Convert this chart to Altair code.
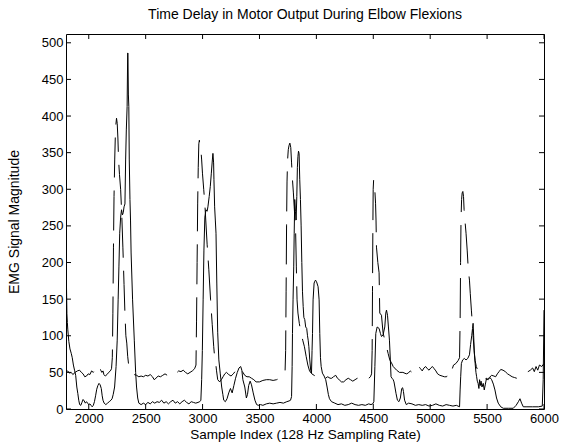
import altair as alt
import pandas as pd

# ---- data ----
dash_x = [1800, 1815, 1830, 1846, 1860, 1880, 1900, 1919, 1935, 1950, 1965, 1980, 1995, 2010, 2025, 2040,
          2055, 2070, 2085, 2095, 2105, 2115, 2125, 2133, 2145, 2160, 2175, 2190, 2200, 2207, 2212, 2217,
          2222, 2228, 2233, 2238, 2244, 2250, 2256, 2262, 2270, 2280, 2290, 2300, 2310, 2318, 2326, 2334,
          2342, 2352, 2365, 2380, 2400, 2420, 2440, 2460, 2480, 2500, 2520, 2540, 2560, 2575, 2590, 2610,
          2630, 2650, 2670, 2690, 2710, 2730, 2750, 2770, 2790, 2810, 2830, 2850, 2870, 2890, 2910, 2930,
          2942, 2947, 2952, 2957, 2962, 2967, 2972, 2978, 2985, 2992, 2999, 3010, 3020, 3028, 3040, 3055,
          3070, 3085, 3098, 3106, 3115, 3122, 3133, 3150, 3165, 3180, 3195, 3210, 3230, 3250, 3270, 3290,
          3310, 3326, 3340, 3355, 3370, 3390, 3410, 3430, 3450, 3470, 3500, 3530, 3560, 3590, 3620, 3650,
          3680, 3710, 3725, 3730, 3734, 3738, 3742, 3747, 3753, 3760, 3767, 3775, 3782, 3790, 3798, 3805,
          3812, 3818, 3824, 3830, 3838, 3850, 3865, 3880, 3895, 3910, 3925, 3940, 3960, 3980, 4000, 4020,
          4040, 4060, 4080, 4100, 4120, 4135, 4150, 4170, 4185, 4200, 4220, 4240, 4260, 4280, 4300, 4320,
          4340, 4360, 4380, 4400, 4420, 4440, 4460, 4475, 4485, 4490, 4493, 4496, 4499, 4503, 4509, 4515,
          4520, 4524, 4528, 4540, 4551, 4557, 4572, 4586, 4601, 4616, 4630, 4645, 4660, 4675, 4705, 4730,
          4760, 4790, 4807, 4825, 4840, 4855, 4870, 4885, 4900, 4915, 4930, 4945, 4960, 4975, 4990, 5005,
          5020, 5035, 5050, 5065, 5085, 5105, 5125, 5144, 5160, 5170, 5180, 5190, 5205, 5225, 5245, 5258,
          5263, 5267, 5271, 5276, 5281, 5287, 5293, 5298, 5305, 5315, 5325, 5335, 5345, 5352, 5362, 5368,
          5373, 5378, 5386, 5395, 5405, 5420, 5440, 5460, 5480, 5500, 5520, 5540, 5560, 5575, 5590, 5605,
          5620, 5640, 5660, 5680, 5700, 5720, 5740, 5760, 5780, 5800, 5820, 5840, 5860, 5880, 5900, 5915,
          5930, 5945, 5960, 5980, 6000]
dash_y = [50, 52, 49, 50, 47, 50, 52, 53, 50, 48, 44, 45, 48, 47, 52, 50,
          54, 57, 55, 58, 53, 50, 52, 47, 45, 47, 50, 52, 55, 70, 130, 220,
          290, 340, 370, 388, 397, 390, 370, 340, 320, 300, 265, 220, 170, 130, 100, 90,
          72, 58, 52, 50, 47, 46, 44, 45, 44, 46, 45, 47, 44, 40, 42, 45,
          44, 46, 48, 46, 49, 47, 50, 49, 52, 51, 53, 50, 48, 50, 52, 55,
          60, 120, 200, 280, 330, 362, 367, 356, 354, 340, 322, 300, 280, 258, 225, 190,
          150, 115, 85, 71, 63, 53, 40, 37, 40, 44, 48, 50, 47, 45, 48, 52,
          54, 58, 55, 50, 46, 44, 44, 42, 40, 37, 37, 39, 40, 40, 39, 40,
          42, 44, 52, 80, 160, 250, 310, 340, 354, 360, 363, 357, 336, 313, 295, 276,
          258, 240, 194, 149, 131, 117, 104, 94, 85, 72, 60, 52, 48, 46, 44, 47,
          45, 43, 42, 44, 42, 42, 44, 46, 42, 40, 37, 37, 40, 42, 40, 38,
          40, 42, 40, 40, 42, 40, 42, 44, 48, 80, 160, 240, 300, 313, 308, 295,
          281, 258, 221, 200, 186, 131, 128, 104, 94, 85, 76, 67, 63, 58, 53, 50,
          50, 48, 49, 52, 50, 48, 50, 55, 58, 55, 52, 56, 58, 55, 53, 56,
          58, 55, 52, 48, 46, 45, 44, 44, 49, 46, 51, 53, 60, 62, 66, 70,
          120, 200, 260, 286, 295, 297, 290, 272, 258, 240, 217, 190, 176, 158, 135, 122,
          112, 98, 80, 66, 58, 52, 48, 45, 42, 40, 43, 46, 45, 44, 48, 51,
          54, 53, 51, 48, 46, 44, 43, 42, 44, 46, 49, 50, 51, 53, 56, 51,
          58, 53, 60, 58, 62]

solid_x = [1800, 1804, 1808, 1812, 1816, 1825, 1835, 1846, 1855, 1865, 1875, 1885, 1895, 1904, 1912, 1920,
           1930, 1940, 1950, 1960, 1970, 1980, 1990, 2000, 2010, 2020, 2030, 2040, 2050, 2060, 2070, 2080,
           2090, 2100, 2110, 2118, 2125, 2135, 2150, 2165, 2180, 2195, 2205, 2215, 2227, 2240, 2250, 2258,
           2265, 2272, 2280, 2288, 2296, 2303, 2310, 2318, 2324, 2330, 2337, 2342, 2344, 2348, 2352, 2356,
           2362, 2367, 2372, 2385, 2400, 2412, 2420, 2430, 2440, 2460, 2480, 2500, 2520, 2540, 2560, 2580,
           2600, 2620, 2640, 2660, 2680, 2700, 2720, 2740, 2760, 2780, 2800, 2820, 2840, 2860, 2880, 2900,
           2920, 2940, 2960, 2975, 2985, 2992, 2998, 3005, 3012, 3020, 3030, 3040, 3047, 3058, 3068, 3077,
           3086, 3091, 3097, 3100, 3106, 3112, 3118, 3125, 3133, 3143, 3155, 3168, 3178, 3186, 3200, 3215,
           3230, 3245, 3260, 3275, 3290, 3305, 3320, 3335, 3345, 3354, 3371, 3385, 3395, 3405, 3418, 3430,
           3445, 3460, 3475, 3490, 3510, 3530, 3560, 3590, 3620, 3650, 3680, 3710, 3740, 3760, 3773, 3782,
           3787, 3790, 3795, 3801, 3805, 3810, 3816, 3822, 3828, 3833, 3838, 3843, 3848, 3854, 3860, 3866,
           3872, 3878, 3884, 3890, 3898, 3906, 3915, 3922, 3928, 3934, 3942, 3950, 3957, 3962, 3966, 3971,
           3980, 3992, 4001, 4015, 4024, 4030, 4036, 4042, 4053, 4068, 4082, 4094, 4105, 4115, 4133, 4162,
           4190, 4220, 4250, 4280, 4310, 4340, 4370, 4400, 4430, 4460, 4480, 4495, 4505, 4514, 4522, 4534,
           4551, 4563, 4572, 4586, 4601, 4610, 4616, 4625, 4633, 4642, 4650, 4656, 4665, 4675, 4682, 4690,
           4700, 4712, 4725, 4738, 4750, 4758, 4765, 4775, 4790, 4810, 4840, 4870, 4900, 4930, 4960, 4990,
           5020, 5050, 5080, 5110, 5140, 5170, 5200, 5230, 5258, 5263, 5268, 5274, 5285, 5300, 5315, 5330,
           5345, 5355, 5365, 5372, 5377, 5382, 5388, 5395, 5402, 5408, 5414, 5421, 5428, 5434, 5440, 5447,
           5455, 5466, 5475, 5485, 5495, 5510, 5525, 5540, 5555, 5569, 5583, 5598, 5620, 5642, 5690, 5730,
           5755, 5775, 5789, 5803, 5818, 5850, 5900, 5950, 5985, 5993, 6000]
solid_y = [230, 170, 130, 118, 108, 92, 82, 76, 70, 60, 53, 46, 30, 21, 12, 6,
           5, 9, 13, 11, 8, 10, 8, 6, 7, 5, 3, 5, 10, 18, 27, 32,
           35, 33, 28, 18, 12, 8, 6, 8, 10, 12, 14, 20, 30, 58, 94, 149,
           194, 240, 262, 272, 265, 268, 276, 280, 340, 381, 413, 486, 486, 430, 413, 340,
           286, 258, 213, 149, 94, 50, 30, 15, 8, 6, 8, 6, 9, 7, 10, 8,
           10, 9, 12, 8, 10, 7, 10, 12, 8, 10, 7, 10, 12, 9, 7, 10,
           9, 8, 9, 10, 12, 40, 80, 149, 217, 262, 272, 270, 276, 290, 304, 322,
           340, 349, 336, 313, 276, 258, 240, 172, 104, 67, 49, 30, 20, 12, 10, 14,
           22, 28, 22, 32, 42, 50, 56, 58, 53, 40, 30, 15, 20, 32, 38, 33,
           22, 12, 6, 5, 6, 5, 7, 8, 7, 8, 9, 8, 10, 11, 12, 17,
           58, 103, 149, 194, 240, 286, 270, 258, 290, 330, 345, 352, 349, 313, 286, 250,
           200, 160, 140, 125, 122, 112, 110, 100, 94, 85, 67, 53, 49, 80, 103, 149,
           172, 176, 174, 167, 149, 103, 70, 58, 49, 45, 40, 30, 20, 14, 10, 8,
           6, 7, 5, 6, 8, 6, 5, 6, 5, 7, 6, 7, 10, 58, 103, 112,
           110, 103, 99, 101, 112, 131, 135, 128, 112, 94, 67, 44, 42, 40, 37, 30,
           21, 12, 10, 15, 28, 29, 24, 12, 6, 8, 7, 5, 6, 5, 6, 4,
           5, 7, 5, 4, 6, 5, 4, 5, 3, 26, 44, 62, 67, 69, 67, 69,
           74, 88, 100, 110, 117, 100, 76, 62, 50, 44, 38, 35, 28, 40, 32, 38,
           30, 35, 26, 34, 42, 40, 43, 40, 34, 26, 15, 8, 3, 1, 1, 1,
           5, 10, 14, 8, 3, 3, 3, 3, 4, 40, 135]

x_ticks = [2000, 2500, 3000, 3500, 4000, 4500, 5000, 5500, 6000]
y_ticks = [0, 50, 100, 150, 200, 250, 300, 350, 400, 450, 500]

# ---- chart ----
W, H = 478, 375
FONT = "Liberation Sans"
xs = alt.Scale(domain=[1800, 6000], nice=False, zero=False)
ys = alt.Scale(domain=[0, 512], nice=False, zero=False)

dash_df = pd.DataFrame({"x": dash_x, "y": dash_y})
solid_df = pd.DataFrame({"x": solid_x, "y": solid_y})
xt_df = pd.DataFrame({"x": x_ticks})
yt_df = pd.DataFrame({"y": y_ticks})

x_axis = alt.Axis(values=x_ticks, title="Sample Index (128 Hz Sampling Rate)",
                  format="d", labelFlush=False, titlePadding=2)
y_axis = alt.Axis(values=y_ticks, title="EMG Signal Magnitude", format="d",
                  titlePadding=20, titleFontSize=14)
x_enc = alt.X("x:Q", scale=xs, axis=x_axis)
y_enc = alt.Y("y:Q", scale=ys, axis=y_axis)

dashed = alt.Chart(dash_df).mark_line(
    color="black", strokeWidth=1, strokeDash=[40, 13], clip=True
).encode(x=x_enc, y=y_enc)

solid = alt.Chart(solid_df).mark_line(
    color="black", strokeWidth=1, clip=True
).encode(x=x_enc, y=y_enc)

TL = 5
xt_bottom = alt.Chart(xt_df).mark_rule(color="black", strokeWidth=1).encode(
    x=x_enc, y=alt.value(H), y2=alt.value(H - TL))
xt_top = alt.Chart(xt_df).mark_rule(color="black", strokeWidth=1).encode(
    x=x_enc, y=alt.value(0), y2=alt.value(TL))
yt_left = alt.Chart(yt_df).mark_rule(color="black", strokeWidth=1).encode(
    y=y_enc, x=alt.value(0), x2=alt.value(TL))
yt_right = alt.Chart(yt_df).mark_rule(color="black", strokeWidth=1).encode(
    y=y_enc, x=alt.value(W), x2=alt.value(W - TL))

chart = alt.layer(dashed, solid, xt_bottom, xt_top, yt_left, yt_right).properties(
    width=W, height=H,
    title=alt.TitleParams("Time Delay in Motor Output During Elbow Flexions",
                          font=FONT, fontSize=14, fontWeight="normal", color="black",
                          offset=12),
    autosize=alt.AutoSizeParams(type="none"),
    padding={"left": 66, "top": 34, "right": 22, "bottom": 37},
    background="white",
).configure_view(
    stroke="black", strokeWidth=1
).configure_axis(
    grid=False, ticks=False, domain=False,
    labelFont=FONT, labelFontSize=13, labelColor="black", labelPadding=3,
    titleFont=FONT, titleFontSize=13.5, titleFontWeight="normal", titleColor="black",
)

chart.save("out.html", embed_options={"renderer": "svg", "actions": False})
